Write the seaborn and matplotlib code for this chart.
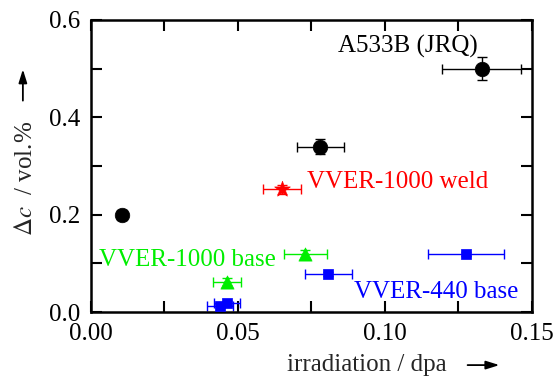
import matplotlib
matplotlib.use("Agg")
import matplotlib.pyplot as plt
import seaborn as sns
import pandas as pd
import numpy as np

# data
jrq_x = [0.0104, 0.078, 0.133]
jrq_y = [0.200, 0.340, 0.500]
jrq_xerr = [0.0015, 0.008, 0.0135]
jrq_yerr = [0.010, 0.016, 0.024]

weld_x = [0.065]
weld_y = [0.252]
weld_xerr = [0.0065]
weld_yerr = [0.010]

v1000_x = [0.0462, 0.073]
v1000_y = [0.062, 0.120]
v1000_xerr = [0.0047, 0.0073]
v1000_yerr = [0.008, 0.008]

v440_x = [0.044, 0.0462, 0.0808, 0.1276]
v440_y = [0.012, 0.019, 0.078, 0.120]
v440_xerr = [0.0045, 0.0045, 0.0081, 0.0128]
v440_yerr = [0.004, 0.004, 0.004, 0.004]

sns.set_style("ticks")
plt.rcParams['font.family'] = ['Liberation Serif', 'DejaVu Serif']
plt.rcParams['mathtext.fontset'] = 'stix'

fig = plt.figure(figsize=(5.58, 3.76), dpi=100)
ax = fig.add_axes([0.163, 0.170, 0.790, 0.777])

groups = [
    (jrq_x, jrq_y, jrq_xerr, jrq_yerr, 'black', 'o', 110),
    (weld_x, weld_y, weld_xerr, weld_yerr, '#ff0000', '*', 140),
    (v1000_x, v1000_y, v1000_xerr, v1000_yerr, '#00ee00', '^', 90),
    (v440_x, v440_y, v440_xerr, v440_yerr, '#0000ff', 's', 60),
]
for x, y, xe, ye, c, m, s in groups:
    ax.errorbar(x, y, xerr=xe, yerr=ye, fmt='none', ecolor=c, elinewidth=1.0,
                capsize=3.5, capthick=1.0, zorder=2)
    df = pd.DataFrame({'x': x, 'y': y})
    sns.scatterplot(data=df, x='x', y='y', color=c, marker=m, s=s, ax=ax,
                    edgecolor=c, linewidth=0.5, zorder=3)

ax.set_xlim(0, 0.15)
ax.set_ylim(0, 0.6)
ax.set_xticks([0.0, 0.05, 0.10, 0.15])
ax.set_xticklabels(['0.00', '0.05', '0.10', '0.15'])
ax.set_yticks([0.0, 0.2, 0.4, 0.6])
ax.set_yticklabels(['0.0', '0.2', '0.4', '0.6'])
ax.set_xticks([0.025, 0.075, 0.125], minor=True)
ax.set_yticks([0.1, 0.3, 0.5], minor=True)
ax.tick_params(which='both', direction='in', length=8, width=1.5,
               top=True, right=True, labelsize=18, colors='black')
ax.tick_params(axis='x', which='both', pad=8)
ax.tick_params(axis='y', which='both', pad=8)
for sp in ax.spines.values():
    sp.set_linewidth(1.8)
    sp.set_color('black')
ax.set_xlabel('')
ax.set_ylabel('')

ax.text(0.1316, 0.545, 'A533B (JRQ)', ha='right', va='center', fontsize=18, color='black')
ax.text(0.0735, 0.2676, 'VVER-1000 weld', ha='left', va='center', fontsize=18, color='#ff0000')
ax.text(0.0026, 0.107, 'VVER-1000 base', ha='left', va='center', fontsize=18, color='#00ee00')
ax.text(0.0896, 0.042, 'VVER-440 base', ha='left', va='center', fontsize=18, color='#0000ff')

fig.text(0.657, 0.03, 'irradiation / dpa', ha='center', va='center', fontsize=18)
fig.text(0.047, 0.524, r'$\Delta c$  / vol.%', ha='center', va='center', fontsize=18, rotation=90)
fig.patches.append(matplotlib.patches.FancyArrowPatch((0.833, 0.029), (0.900, 0.029),
    transform=fig.transFigure, arrowstyle='-|>,head_length=0.8,head_width=0.25',
    mutation_scale=10, color='black', lw=1.3))
fig.patches.append(matplotlib.patches.FancyArrowPatch((0.041, 0.725), (0.041, 0.823),
    transform=fig.transFigure, arrowstyle='-|>,head_length=0.8,head_width=0.25',
    mutation_scale=10, color='black', lw=1.3))

fig.savefig('out.png', dpi=100)
